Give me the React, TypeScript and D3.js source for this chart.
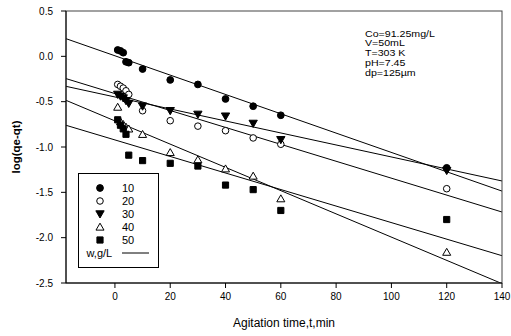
import React from 'react';
import * as d3 from 'd3';

const times = [1, 2, 3, 4, 5, 10, 20, 30, 40, 50, 60, 120];
const series10 = [0.07, 0.06, 0.04, -0.06, -0.07, -0.14, -0.26, -0.31, -0.47, -0.55, -0.65, -1.23];
const series20 = [-0.31, -0.33, -0.35, -0.38, -0.42, -0.6, -0.71, -0.77, -0.82, -0.9, -0.97, -1.46];
const series30 = [-0.42, -0.44, -0.46, -0.49, -0.52, -0.55, -0.6, -0.64, -0.66, -0.74, -0.92, -1.26];
const series40 = [-0.56, -0.72, -0.75, -0.78, -0.8, -0.86, -1.06, -1.14, -1.24, -1.32, -1.57, -2.16];
const series50 = [-0.7, -0.76, -0.8, -0.86, -1.09, -1.15, -1.18, -1.21, -1.42, -1.47, -1.7, -1.8];
const seriesLabels = ['10', '20', '30', '40', '50'];
const fitIntercepts = [0.006, -0.411, -0.448, -0.712, -0.922];
const fitSlopes = [-0.01066, -0.00933, -0.00662, -0.01282, -0.00912];
const xTicks = [0, 20, 40, 60, 80, 100, 120, 140];
const yTicks = [0.5, 0.0, -0.5, -1.0, -1.5, -2.0, -2.5];
const annotation = ['Co=91.25mg/L', 'V=50mL', 'T=303 K', 'pH=7.45', 'dp=125µm'];

const allSeries = [series10, series20, series30, series40, series50];
const W = 511, H = 336;
const L = 66, R = 502, T = 11, B = 283;
const FONT = 'Liberation Sans, Arial, sans-serif';

type MS = { type: d3.SymbolType; size: number; fill: string; rot: number };
const markerStyles: MS[] = [
  { type: d3.symbolCircle, size: 36, fill: '#000', rot: 0 },
  { type: d3.symbolCircle, size: 34, fill: '#fff', rot: 0 },
  { type: d3.symbolTriangle, size: 30, fill: '#000', rot: 180 },
  { type: d3.symbolTriangle, size: 28, fill: '#fff', rot: 0 },
  { type: d3.symbolSquare, size: 38, fill: '#000', rot: 0 },
];

function Marker({ x, y, i }: { x: number; y: number; i: number }) {
  const m = markerStyles[i];
  const d = d3.symbol().type(m.type).size(m.size)() as string;
  const dy = m.type === d3.symbolTriangle ? (m.rot ? -0.8 : 0.8) : 0;
  return (
    <path
      d={d}
      transform={`translate(${x},${y + dy}) rotate(${m.rot})`}
      fill={m.fill}
      stroke="#000"
      strokeWidth={1}
    />
  );
}

export default function App() {
  const x = d3.scaleLinear().domain([-17.7, 140]).range([L, R]);
  const y = d3.scaleLinear().domain([-2.5, 0.5]).range([B, T]);
  const [x0, x1] = x.domain();
  return (
    <svg width={W} height={H} style={{ position: 'absolute', left: 0, top: 0, background: '#fff' }} fontFamily={FONT}>
      <defs>
        <clipPath id="plot">
          <rect x={L} y={T} width={R - L} height={B - T} />
        </clipPath>
      </defs>
      <rect x={0} y={0} width={W} height={H} fill="#fff" />
      <g clipPath="url(#plot)">
        {fitIntercepts.map((b, i) => (
          <line
            key={i}
            x1={x(x0)}
            y1={y(b + fitSlopes[i] * x0)}
            x2={x(x1)}
            y2={y(b + fitSlopes[i] * x1)}
            stroke="#000"
            strokeWidth={1}
          />
        ))}
      </g>
      {allSeries.map((s, i) => (
        <g key={i}>
          {s.map((v, j) => (
            <Marker key={j} x={x(times[j])} y={y(v)} i={i} />
          ))}
        </g>
      ))}
      <rect x={L} y={T} width={R - L} height={B - T} fill="none" stroke="#444" strokeWidth={1} />
      <line x1={L} y1={T} x2={L} y2={B} stroke="#000" />
      <line x1={L} y1={B} x2={R} y2={B} stroke="#000" />
      {yTicks.map((t) => (
        <g key={t}>
          <line x1={L - 5} x2={L} y1={y(t)} y2={y(t)} stroke="#000" />
          <text x={L - 13} y={y(t)} dy="0.35em" textAnchor="end" fontSize={10} fill="#000">
            {t.toFixed(1)}
          </text>
        </g>
      ))}
      {xTicks.map((t) => (
        <g key={t}>
          <line x1={x(t)} x2={x(t)} y1={B} y2={B + 5} stroke="#000" />
          <text x={x(t)} y={B + 17} textAnchor="middle" fontSize={10} fill="#000">
            {t}
          </text>
        </g>
      ))}
      <text x={(L + R) / 2} y={327} textAnchor="middle" fontSize={12} fill="#000">
        Agitation time,t,min
      </text>
      <text
        transform={`translate(20,${(T + B) / 2}) rotate(-90)`}
        textAnchor="middle"
        fontSize={11.5}
        fontWeight="bold"
        fill="#000"
      >
        log(qe-qt)
      </text>
      {annotation.map((a, i) => (
        <text
          key={a}
          transform={`translate(365,${36.5 + i * 9.8}) scale(1.25,1)`}
          fontSize={8.5}
          fill="#000"
        >
          {a}
        </text>
      ))}
      <rect x={78.5} y={173.5} width={80} height={94} fill="#fff" stroke="#000" strokeWidth={1} />
      {seriesLabels.map((lab, i) => (
        <g key={lab}>
          <Marker x={100} y={188 + i * 13} i={i} />
          <text x={122} y={188 + i * 13} dy="0.35em" fontSize={11} fill="#000">
            {lab}
          </text>
        </g>
      ))}
      <text x={86.5} y={253} dy="0.35em" fontSize={11} fill="#000">
        w,g/L
      </text>
      <line x1={122} x2={149} y1={253} y2={253} stroke="#000" />
    </svg>
  );
}
